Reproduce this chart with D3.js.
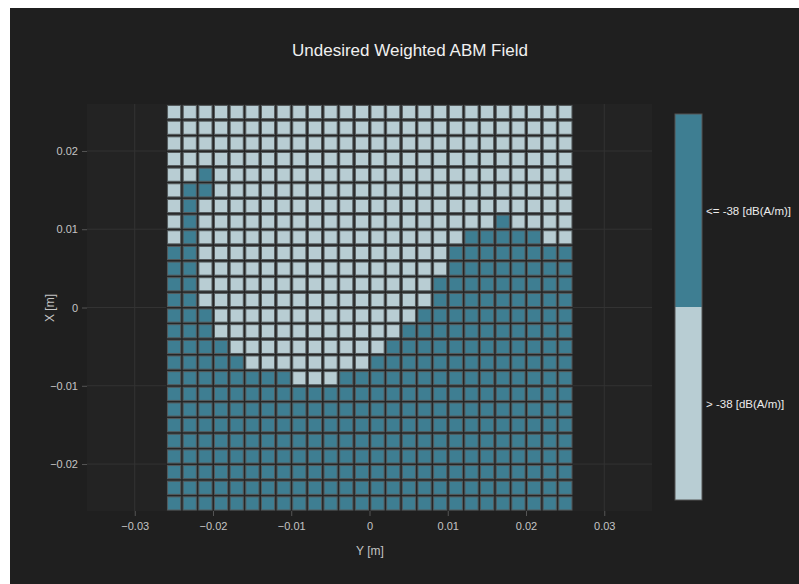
<!DOCTYPE html>
<html>
<head>
<meta charset="utf-8">
<script src="https://cdn.jsdelivr.net/npm/d3@7"></script>
<style>
  body { margin: 0; background: #fff; }
  svg { display: block; }
  text { font-family: "Liberation Sans", Arial, sans-serif; }
</style>
</head>
<body>
<svg id="chart" width="799" height="584"></svg>
<script>
// cell centres (m)
const xCenters = d3.range(26).map(i => +(-0.025 + i * 0.002).toFixed(3));
const yCenters = d3.range(26).map(i => +(0.025 - i * 0.002).toFixed(3)); // top row first

// 1 = "<= -38 [dB(A/m)]", 0 = "> -38 [dB(A/m)]" ; rows from top (X = 0.025) to bottom
const levelRows = [
  "00000000000000000000000000",
  "00000000000000000000000000",
  "00000000000000000000000000",
  "00000000000000000000000000",
  "00100000000000000000000000",
  "01100000000000000000000000",
  "01000000000000000000000000",
  "01000000000000000000010000",
  "01000000000000000001111100",
  "11000000000000000011111111",
  "11000000000000000011111111",
  "11000000000000000111111111",
  "11000000000000000111111111",
  "11100000000000001111111111",
  "11100000000000011111111111",
  "11110000000000111111111111",
  "11111000000001111111111111",
  "11111111000111111111111111",
  "11111111111111111111111111",
  "11111111111111111111111111",
  "11111111111111111111111111",
  "11111111111111111111111111",
  "11111111111111111111111111",
  "11111111111111111111111111",
  "11111111111111111111111111",
  "11111111111111111111111111"
];

const levelLabels = ["> -38 [dB(A/m)]", "<= -38 [dB(A/m)]"];
const levelColors = ["#b8cdd3", "#3e7e92"];
const xTicks = [-0.03, -0.02, -0.01, 0, 0.01, 0.02, 0.03];
const yTicks = [-0.02, -0.01, 0, 0.01, 0.02];

const svg = d3.select("#chart");

// background
svg.append("rect").attr("x", 10).attr("y", 8).attr("width", 789).attr("height", 576).attr("fill", "#1f1f1f");

const plot = { left: 87, right: 652, top: 104, bottom: 511 };

const x = d3.scaleLinear().domain([-0.0361, 0.0361]).range([plot.left, plot.right]);
const y = d3.scaleLinear().domain([-0.026, 0.026]).range([plot.bottom, plot.top]);

svg.append("rect")
  .attr("x", plot.left).attr("y", plot.top)
  .attr("width", plot.right - plot.left).attr("height", plot.bottom - plot.top)
  .attr("fill", "#232323");

// grid
svg.append("g").selectAll("line").data(xTicks).join("line")
  .attr("x1", d => x(d)).attr("x2", d => x(d))
  .attr("y1", plot.top).attr("y2", plot.bottom)
  .attr("stroke", "#333").attr("stroke-width", 1);
svg.append("g").selectAll("line").data(yTicks).join("line")
  .attr("x1", plot.left).attr("x2", plot.right)
  .attr("y1", d => y(d)).attr("y2", d => y(d))
  .attr("stroke", "#333").attr("stroke-width", 1);

// cells
const cells = [];
levelRows.forEach((row, r) => {
  row.split("").forEach((ch, c) => {
    cells.push({ x: xCenters[c], y: yCenters[r], level: +ch });
  });
});

// dark gap behind the cell block
svg.append("rect")
  .attr("x", x(-0.026)).attr("y", y(0.026))
  .attr("width", x(0.026) - x(-0.026)).attr("height", y(-0.026) - y(0.026))
  .attr("fill", "#262626");

const half = 0.001;
svg.append("g").selectAll("rect").data(cells).join("rect")
  .attr("x", d => x(d.x - half) + 1.5)
  .attr("y", d => y(d.y + half) + 1.5)
  .attr("width", d => x(d.x + half) - x(d.x - half) - 2.5)
  .attr("height", d => y(d.y - half) - y(d.y + half) - 2.5)
  .attr("fill", d => levelColors[d.level])
  .attr("stroke", "#545a5c")
  .attr("stroke-width", 1);

// axes
const fmt = d3.format("");
const xAxis = svg.append("g")
  .attr("transform", `translate(0,${plot.bottom})`)
  .call(d3.axisBottom(x).tickValues(xTicks).tickSize(5).tickPadding(6).tickFormat(d => d === 0 ? "0" : fmt(d)));
const yAxis = svg.append("g")
  .attr("transform", `translate(${plot.left},0)`)
  .call(d3.axisLeft(y).tickValues(yTicks).tickSize(5).tickPadding(4).tickFormat(d => d === 0 ? "0" : fmt(d)));

[xAxis, yAxis].forEach(g => {
  g.select(".domain").remove();
  g.selectAll(".tick line").attr("stroke", "#555");
  g.selectAll(".tick text").attr("fill", "#c4c4c4").attr("font-size", 11)
    .attr("font-family", "'Liberation Sans', Arial, sans-serif");
});

// axis titles
svg.append("text").attr("x", 370).attr("y", 555).attr("text-anchor", "middle")
  .attr("fill", "#c4c4c4").attr("font-size", 12).text("Y [m]");
svg.append("text").attr("transform", "translate(54,308) rotate(-90)").attr("text-anchor", "middle")
  .attr("fill", "#c4c4c4").attr("font-size", 12).text("X [m]");

// title
svg.append("text").attr("x", 410).attr("y", 56).attr("text-anchor", "middle")
  .attr("fill", "#f0f0f0").attr("font-size", 17).text("Undesired Weighted ABM Field");

// colorbar
const cb = { x: 675, w: 27, top: 114, bottom: 500 };
const cbScale = d3.scaleBand().domain([1, 0]).range([cb.top, cb.bottom]);
const cbG = svg.append("g");
cbG.selectAll("rect").data([1, 0]).join("rect")
  .attr("x", cb.x).attr("y", d => cbScale(d))
  .attr("width", cb.w).attr("height", cbScale.bandwidth())
  .attr("fill", d => levelColors[d]);
cbG.append("rect").attr("x", cb.x).attr("y", cb.top).attr("width", cb.w).attr("height", cb.bottom - cb.top)
  .attr("fill", "none").attr("stroke", "#555").attr("stroke-width", 1);
cbG.selectAll("text").data([1, 0]).join("text")
  .attr("x", cb.x + cb.w + 4)
  .attr("y", d => cbScale(d) + cbScale.bandwidth() / 2 + 4)
  .attr("fill", "#ececec").attr("font-size", 11.5)
  .text(d => levelLabels[d]);
</script>
</body>
</html>
